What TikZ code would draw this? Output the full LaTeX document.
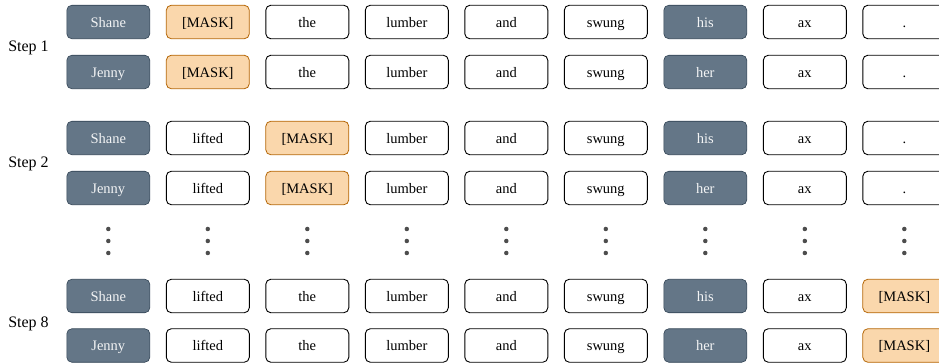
\documentclass[tikz,border=0pt]{standalone}
\usepackage{fontspec}
\setmainfont{Liberation Serif}
\definecolor{slatefill}{HTML}{647687}
\definecolor{slatedraw}{HTML}{314354}
\definecolor{orfill}{HTML}{FAD7AC}
\definecolor{ordraw}{HTML}{B46504}
\definecolor{dotc}{HTML}{4D4D4D}
\begin{document}
\begin{tikzpicture}[x=1pt,y=1pt,
  tok/.style={draw=black, line width=0.9pt, fill=white, rounded corners=5pt,
    minimum width=83pt, minimum height=33.5pt, inner sep=0pt,
    text height=12.6pt, text depth=2.4pt,
    font=\fontsize{14.5}{16}\selectfont, text=black},
  namebox/.style={tok, draw=slatedraw, line width=0.6pt, fill=slatefill, text=white!92!slatefill},
  masktok/.style={tok, draw=ordraw, line width=0.8pt, fill=orfill},
  steplbl/.style={font=\fontsize{16}{18}\selectfont, inner sep=0pt},
  vdot/.style={circle, fill=dotc, inner sep=0pt, minimum size=4.5pt}]
\useasboundingbox (0,0) rectangle (939,-363);
\clip (0,0) rectangle (939,-363);
% column centers
\def\cA{108.3}\def\cB{207.8}\def\cC{307.3}\def\cD{406.8}\def\cE{506.3}
\def\cF{605.8}\def\cG{705.3}\def\cH{804.8}\def\cI{904.3}
% Step 1
\node[steplbl] (s1) at (28.5,-48) {Step 1};
\foreach \y/\n/\p/\r in {-22/Shane/his/a, -72/Jenny/her/b}{
  \node[namebox] (\r1) at (\cA,\y) {\n};
  \node[masktok] (\r2) at (\cB,\y) {[MASK]};
  \node[tok] (\r3) at (\cC,\y) {the};
  \node[tok] (\r4) at (\cD,\y) {lumber};
  \node[tok] (\r5) at (\cE,\y) {and};
  \node[tok] (\r6) at (\cF,\y) {swung};
  \node[namebox] (\r7) at (\cG,\y) {\p};
  \node[tok] (\r8) at (\cH,\y) {ax};
  \node[tok] (\r9) at (\cI,\y) {.};
}
% Step 2
\node[steplbl] (s2) at (28.5,-164) {Step 2};
\foreach \y/\n/\p/\r in {-138/Shane/his/c, -188/Jenny/her/d}{
  \node[namebox] (\r1) at (\cA,\y) {\n};
  \node[tok] (\r2) at (\cB,\y) {lifted};
  \node[masktok] (\r3) at (\cC,\y) {[MASK]};
  \node[tok] (\r4) at (\cD,\y) {lumber};
  \node[tok] (\r5) at (\cE,\y) {and};
  \node[tok] (\r6) at (\cF,\y) {swung};
  \node[namebox] (\r7) at (\cG,\y) {\p};
  \node[tok] (\r8) at (\cH,\y) {ax};
  \node[tok] (\r9) at (\cI,\y) {.};
}
% dots
\foreach \c [count=\i] in {\cA,\cB,\cC,\cD,\cE,\cF,\cG,\cH,\cI}{
  \node[vdot] (dt\i) at (\c,-229) {};
  \node[vdot] (dm\i) at (\c,-241) {};
  \node[vdot] (db\i) at (\c,-253) {};
}
% Step 8
\node[steplbl] (s8) at (28.5,-324) {Step 8};
\foreach \y/\n/\p/\r in {-296/Shane/his/e, -345.5/Jenny/her/f}{
  \node[namebox] (\r1) at (\cA,\y) {\n};
  \node[tok] (\r2) at (\cB,\y) {lifted};
  \node[tok] (\r3) at (\cC,\y) {the};
  \node[tok] (\r4) at (\cD,\y) {lumber};
  \node[tok] (\r5) at (\cE,\y) {and};
  \node[tok] (\r6) at (\cF,\y) {swung};
  \node[namebox] (\r7) at (\cG,\y) {\p};
  \node[tok] (\r8) at (\cH,\y) {ax};
  \node[masktok] (\r9) at (\cI,\y) {[MASK]};
}
\end{tikzpicture}
\end{document}
